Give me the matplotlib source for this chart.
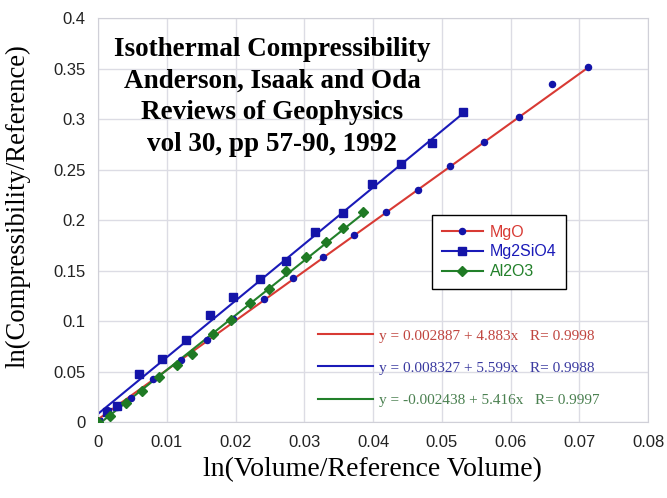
import matplotlib.pyplot as plt
from matplotlib.lines import Line2D
import numpy as np

# data
mgo_x = [0, 0.0013, 0.0028, 0.0048, 0.0080, 0.0120, 0.0159, 0.0197, 0.0241, 0.0284,
         0.0327, 0.0373, 0.0419, 0.0466, 0.0512, 0.0562, 0.0612, 0.0661, 0.0712]
mgo_y = [0, 0.012, 0.015, 0.024, 0.043, 0.062, 0.0815, 0.102, 0.122, 0.143,
         0.164, 0.185, 0.208, 0.230, 0.2535, 0.277, 0.3016, 0.335, 0.352]

mg2sio4_x = [0, 0.0013, 0.0028, 0.0059, 0.0093, 0.0128, 0.0163, 0.0197, 0.0235, 0.0273,
             0.0315, 0.0357, 0.0399, 0.0441, 0.0486, 0.0531]
mg2sio4_y = [0, 0.010, 0.016, 0.048, 0.063, 0.081, 0.106, 0.124, 0.142, 0.160,
             0.188, 0.207, 0.236, 0.256, 0.276, 0.307]

al2o3_x = [0, 0.0018, 0.0040, 0.0064, 0.0088, 0.0115, 0.0136, 0.0167, 0.0193, 0.0221,
           0.0249, 0.0274, 0.0302, 0.0331, 0.0357, 0.0386]
al2o3_y = [0, 0.006, 0.019, 0.031, 0.045, 0.057, 0.068, 0.087, 0.101, 0.118,
           0.132, 0.150, 0.164, 0.178, 0.192, 0.208]

names = ['MgO', 'Mg2SiO4', 'Al2O3']
intercepts = [0.002887, 0.008327, -0.002438]
slopes = [4.883, 5.599, 5.416]
r_values = ['0.9998', '0.9988', '0.9997']

title_lines = ['Isothermal Compressibility', 'Anderson, Isaak and Oda',
               'Reviews of Geophysics', 'vol 30, pp 57-90, 1992']

line_colors = ['#d83a34', '#1a1ab8', '#22802a']
marker_colors = ['#1414a8', '#1414a8', '#1f7a24']
text_colors = ['#c0453f', '#3a3aa0', '#4a8050']
markers = ['o', 's', 'D']
msizes = [4.4, 5.2, 4.6]

fig = plt.figure(figsize=(6.67, 4.98), dpi=100)
ax = fig.add_axes([98 / 667, 1 - 422.3 / 498, 550 / 667, 404.3 / 498])

series = [(mgo_x, mgo_y), (mg2sio4_x, mg2sio4_y), (al2o3_x, al2o3_y)]
for i, (xs, ys) in enumerate(series):
    fx = np.array([0, max(xs)])
    ax.plot(fx, intercepts[i] + slopes[i] * fx, color=line_colors[i], lw=1.5, zorder=2)
for i, (xs, ys) in enumerate(series):
    ax.plot(xs, ys, ls='none', marker=markers[i], ms=msizes[i],
            color=marker_colors[i], zorder=3)

ax.set_xlim(0, 0.08)
ax.set_ylim(0, 0.4)
ax.set_xticks(np.arange(0, 0.081, 0.01))
ax.set_yticks(np.arange(0, 0.401, 0.05))
ax.set_xticklabels(['0', '0.01', '0.02', '0.03', '0.04', '0.05', '0.06', '0.07', '0.08'])
ax.set_yticklabels(['0', '0.05', '0.1', '0.15', '0.2', '0.25', '0.3', '0.35', '0.4'])
ax.tick_params(length=0, labelsize=12, labelcolor='#222222', pad=9)
for lab in ax.get_xticklabels() + ax.get_yticklabels():
    lab.set_family('Liberation Sans')
ax.grid(True, color='#dcdce4', lw=1)
ax.set_axisbelow(True)
for sp in ax.spines.values():
    sp.set_color('#d0d0d8')

fig.text(18 / 667, 1 - 206 / 498, 'ln(Compressibility/Reference)', rotation=90,
         ha='center', va='center', family='Liberation Serif', fontsize=19.2)
fig.text(372 / 667, 1 - 470 / 498, 'ln(Volume/Reference Volume)',
         ha='center', va='center', family='Liberation Serif', fontsize=20)

for k, t in enumerate(title_lines):
    fig.text(272 / 667, 1 - (49 + 31.7 * k) / 498, t, ha='center', va='center',
             family='Liberation Serif', fontweight='bold', fontsize=19.5)

# series legend
handles = [Line2D([], [], color=line_colors[i], lw=1.5, marker=markers[i],
                  ms=msizes[i], markerfacecolor=marker_colors[i],
                  markeredgecolor=marker_colors[i]) for i in range(3)]
leg = ax.legend(handles, names, loc='upper left',
                bbox_to_anchor=(432 / 667, 1 - 215 / 498), bbox_transform=fig.transFigure,
                prop={'family': 'Liberation Sans', 'size': 11.5}, handlelength=2.6,
                labelspacing=0.3, borderpad=0.6, borderaxespad=0, fancybox=False,
                framealpha=1, edgecolor='black', handletextpad=0.4)
leg.get_frame().set_linewidth(1.0)
for i, txt in enumerate(leg.get_texts()):
    txt.set_color(line_colors[i])

# fit equations
eq_handles = [Line2D([], [], color=line_colors[i], lw=1.5) for i in range(3)]
eq_labels = [f'y = {intercepts[i]:.6f} + {slopes[i]:.3f}x   R= {r_values[i]}' for i in range(3)]
leg2 = ax.legend(eq_handles, eq_labels, loc='center left',
                 bbox_to_anchor=(318 / 667, 1 - 368 / 498), bbox_transform=fig.transFigure,
                 prop={'family': 'Liberation Serif', 'size': 11}, handlelength=3.6,
                 labelspacing=1.2, frameon=False, handletextpad=0.4, borderaxespad=0,
                 borderpad=0)
for i, txt in enumerate(leg2.get_texts()):
    txt.set_color(text_colors[i])
ax.add_artist(leg)

fig.savefig('out.png', dpi=100)
